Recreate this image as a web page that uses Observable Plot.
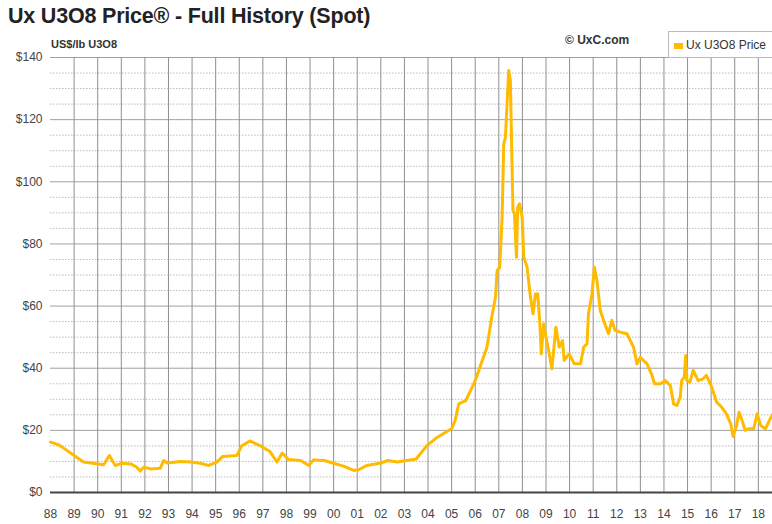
<!DOCTYPE html>
<html>
<head>
<meta charset="utf-8">
<script src="https://cdn.jsdelivr.net/npm/d3@7"></script>
<script src="https://cdn.jsdelivr.net/npm/@observablehq/plot@0.6"></script>
<style>
  html, body { margin: 0; padding: 0; background: #fff; }
  #wrap { position: relative; width: 772px; height: 524px; overflow: hidden; font-family: "Liberation Sans", Arial, sans-serif; }
  #title { position: absolute; left: 8px; top: 4px; font-size: 21.5px; font-weight: bold; color: #222; white-space: nowrap; letter-spacing: -0.2px; }
  #sub { position: absolute; left: 51px; top: 38px; font-size: 11px; font-weight: bold; color: #333; }
  #copy { position: absolute; left: 565px; top: 33px; font-size: 12px; font-weight: bold; color: #333; }
  #legend { position: absolute; left: 668px; top: 31px; width: 110px; height: 27px; border: 1px solid #bbb; background: #fff; box-sizing: border-box; }
  #legend .sw { position: absolute; left: 5px; top: 11px; width: 9px; height: 6px; background: #ffbb00; }
  #legend .lb { position: absolute; left: 17px; top: 6px; font-size: 12px; color: #333; white-space: nowrap; }
  #chart { position: absolute; left: 0; top: 30px; }
</style>
</head>
<body>
<div id="wrap">
  <div id="title">Ux U3O8 Price® - Full History (Spot)</div>
  <div id="chart"></div>
  <div id="sub">US$/lb U3O8</div>
  <div id="copy">© UxC.com</div>
  <div id="legend"><div class="sw"></div><div class="lb">Ux U3O8 Price</div></div>
</div>
<script>
const years = [1988.0, 1988.3, 1988.5, 1989.0, 1989.4, 1989.8, 1990.25, 1990.4, 1990.5, 1990.6, 1990.75, 1991.0, 1991.4, 1991.65, 1991.8, 1991.95, 1992.25, 1992.65, 1992.8, 1992.95, 1993.5, 1993.95, 1994.35, 1994.7, 1995.05, 1995.3, 1995.9, 1996.1, 1996.45, 1996.9, 1997.3, 1997.6, 1997.82, 1998.1, 1998.6, 1998.95, 1999.15, 1999.6, 2000.0, 2000.45, 2000.85, 2001.05, 2001.4, 2002.0, 2002.3, 2002.7, 2003.1, 2003.5, 2003.95, 2004.4, 2004.75, 2005.0, 2005.15, 2005.3, 2005.6, 2005.8, 2006.0, 2006.5, 2006.7, 2006.86, 2006.93, 2007.04, 2007.14, 2007.21, 2007.28, 2007.42, 2007.49, 2007.6, 2007.66, 2007.75, 2007.8, 2007.88, 2007.99, 2008.06, 2008.2, 2008.34, 2008.45, 2008.55, 2008.65, 2008.74, 2008.8, 2008.9, 2009.0, 2009.14, 2009.25, 2009.42, 2009.56, 2009.7, 2009.77, 2009.98, 2010.2, 2010.46, 2010.6, 2010.74, 2010.8, 2010.95, 2011.05, 2011.16, 2011.3, 2011.44, 2011.65, 2011.79, 2011.93, 2012.15, 2012.43, 2012.71, 2012.86, 2013.0, 2013.28, 2013.47, 2013.6, 2013.85, 2014.06, 2014.27, 2014.41, 2014.55, 2014.69, 2014.75, 2014.86, 2014.92, 2014.97, 2015.1, 2015.24, 2015.45, 2015.66, 2015.8, 2016.0, 2016.23, 2016.44, 2016.65, 2016.83, 2016.93, 2017.08, 2017.18, 2017.29, 2017.44, 2017.58, 2017.8, 2017.95, 2018.1, 2018.3, 2018.5, 2018.62];
const prices = [16.2, 15.5, 14.6, 11.9, 9.8, 9.4, 8.9, 10.8, 11.9, 10.5, 8.7, 9.4, 9.2, 8.2, 6.9, 8.1, 7.6, 7.8, 10.3, 9.5, 10.0, 9.8, 9.4, 8.7, 9.8, 11.6, 11.9, 15.0, 16.6, 15.0, 13.2, 9.8, 12.7, 10.6, 10.3, 8.7, 10.5, 10.3, 9.4, 8.4, 7.1, 7.3, 8.7, 9.5, 10.3, 9.8, 10.3, 10.8, 15.1, 17.8, 19.4, 20.5, 23.2, 28.5, 29.6, 32.8, 36.0, 46.8, 56.4, 62.9, 71.4, 72.5, 88.6, 112.2, 114.3, 135.8, 132.6, 90.7, 90.0, 75.7, 91.8, 92.9, 88.6, 75.7, 72.5, 62.9, 57.5, 63.9, 63.9, 54.3, 44.6, 54.3, 50.0, 44.6, 39.8, 53.2, 46.8, 48.9, 42.5, 44.6, 41.4, 41.4, 46.8, 47.9, 57.5, 63.9, 72.5, 68.2, 58.6, 55.4, 51.1, 55.4, 52.1, 51.6, 51.1, 46.8, 41.4, 43.5, 41.4, 38.2, 35.0, 35.0, 36.0, 34.4, 28.5, 28.0, 30.7, 36.0, 37.1, 44.1, 36.0, 35.5, 39.3, 36.0, 36.6, 37.7, 34.4, 29.1, 27.5, 25.3, 22.1, 18.0, 21.6, 25.8, 23.7, 20.0, 20.5, 20.5, 25.3, 21.6, 20.5, 23.7, 25.3];
const yearTicks = d3.range(1988, 2019);
const majorTicks = [0, 20, 40, 60, 80, 100, 120, 140];
const minorTicks = [5, 10, 15, 25, 30, 35, 45, 50, 55, 65, 70, 75, 85, 90, 95, 105, 110, 115, 125, 130, 135];

const data = years.map((y, i) => ({year: y, price: prices[i]}));

const chart = Plot.plot({
  width: 772,
  height: 494,
  marginLeft: 50,
  marginRight: 0,
  marginTop: 27,
  marginBottom: 32,
  style: {fontFamily: "'Liberation Sans', Arial, sans-serif", fontSize: "12px", color: "#444", background: "transparent"},
  x: {domain: [1988, 2018.6], ticks: yearTicks, tickFormat: d => String(d % 100).padStart(2, "0"), tickSize: 0, tickPadding: 17, label: null},
  y: {domain: [0, 140], ticks: majorTicks, tickFormat: d => "$" + d, tickSize: 0, tickPadding: 8, label: null},
  marks: [
    Plot.ruleY(minorTicks, {stroke: "#bbb", strokeDasharray: "1.5,1.5", strokeWidth: 1}),
    Plot.ruleY(majorTicks.slice(1), {stroke: "#a0a0a0", strokeWidth: 1}),
    Plot.ruleX(yearTicks.slice(1), {stroke: "#8f8f8f", strokeWidth: 1}),
    Plot.ruleY([0], {stroke: "#444", strokeWidth: 2}),
    Plot.line(data, {x: "year", y: "price", stroke: "#ffbb00", strokeWidth: 3, strokeLinejoin: "round"})
  ]
});
document.getElementById("chart").appendChild(chart);
</script>
</body>
</html>
